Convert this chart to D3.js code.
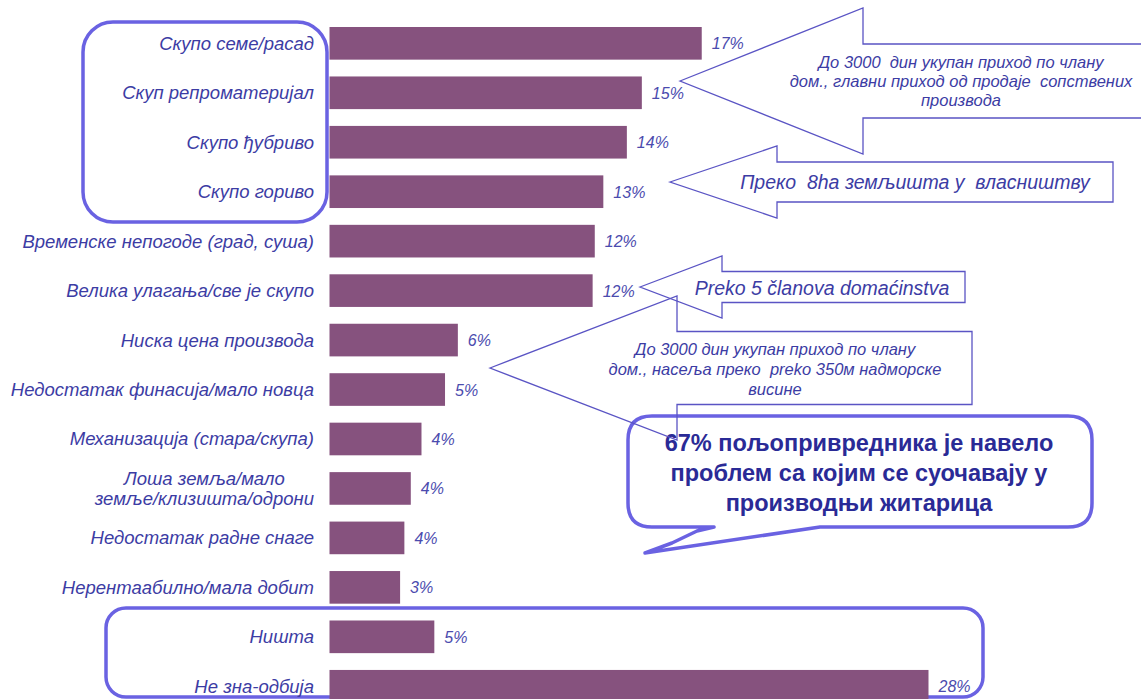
<!DOCTYPE html>
<html>
<head>
<meta charset="utf-8">
<script src="https://cdn.jsdelivr.net/npm/d3@7"></script>
<style>
  html, body { margin: 0; padding: 0; background: #ffffff; }
  svg { display: block; }
  text { font-family: "Liberation Sans", Arial, sans-serif; }
</style>
</head>
<body>
<svg id="chart" width="1141" height="699"></svg>
<script>
// ---- data ----
const categories = [
  "Скупо семе/расад",
  "Скуп репроматеријал",
  "Скупо ђубриво",
  "Скупо гориво",
  "Временске непогоде (град, суша)",
  "Велика улагања/све је скупо",
  "Ниска цена производа",
  "Недостатак финасија/мало новца",
  "Механизација (стара/скупа)",
  "Лоша земља/мало\nземље/клизишта/одрони",
  "Недостатак радне снаге",
  "Нерентаабилно/мала добит",
  "Ништа",
  "Не зна-одбија"
];
const values = [17.4, 14.6, 13.9, 12.8, 12.4, 12.3, 6.0, 5.4, 4.3, 3.8, 3.5, 3.3, 4.9, 28.0];
const valueLabels = ["17%", "15%", "14%", "13%", "12%", "12%", "6%", "5%", "4%", "4%", "4%", "3%", "5%", "28%"];

const arrowText1 = ["До 3000  дин укупан приход по члану", "дом., главни приход од продаје  сопствених", "производа"];
const arrowText2 = ["Преко  8ha земљишта у  власништву"];
const arrowText3 = ["Preko 5 članova domaćinstva"];
const arrowText4 = ["До 3000 дин укупан приход по члану", "дом., насеља преко  preko 350м надморске", "висине"];
const calloutText = ["67% пољопривредника је навело", "проблем са којим се суочавају у", "производњи житарица"];

// ---- styles ----
const barColor = "#86527e";
const labelColor = "#3c3ca4";
const valueColor = "#4b4bae";
const boxColor = "#6a62e2";
const arrowColor = "#5a54c4";

const svg = d3.select("#chart");

const x = d3.scaleLinear().domain([0, 28]).range([329.5, 928.5]);
const y = d3.scaleBand().domain(categories).range([18.6, 711]).paddingInner(0.34).paddingOuter(0.17);

// highlight boxes (behind)
const g0 = svg.append("g");
g0.append("rect").attr("x", 83).attr("y", 22).attr("width", 244).attr("height", 200)
  .attr("rx", 30).attr("ry", 30).attr("fill", "none").attr("stroke", boxColor).attr("stroke-width", 3.5);
g0.append("rect").attr("x", 106).attr("y", 608).attr("width", 877).attr("height", 89)
  .attr("rx", 20).attr("ry", 20).attr("fill", "none").attr("stroke", boxColor).attr("stroke-width", 3.5);

// bars
svg.append("g").selectAll("rect").data(categories).join("rect")
  .attr("x", x(0))
  .attr("y", d => y(d))
  .attr("width", (d, i) => x(values[i]) - x(0))
  .attr("height", y.bandwidth())
  .attr("fill", barColor);

// value labels
svg.append("g").selectAll("text").data(categories).join("text")
  .attr("x", (d, i) => x(values[i]) + 10)
  .attr("y", d => y(d) + y.bandwidth() / 2 + 6)
  .attr("font-size", 16)
  .attr("font-style", "italic")
  .attr("fill", valueColor)
  .text((d, i) => valueLabels[i]);

// category labels
const labelRight = 314;
const lab = svg.append("g").selectAll("text").data(categories).join("text")
  .attr("font-size", 18.5)
  .attr("font-style", "italic")
  .attr("fill", labelColor)
  .attr("text-anchor", "end")
  .attr("x", labelRight)
  .attr("y", d => y(d) + y.bandwidth() / 2 + 6.5);
lab.each(function(d) {
  const t = d3.select(this);
  const lines = d.split("\n");
  if (lines.length === 1) { t.text(d); return; }
  const cy = y(d) + y.bandwidth() / 2;
  const spans = lines.map((l, k) => t.append("tspan").attr("y", cy + 6.5 + (k - (lines.length - 1) / 2) * 20).text(l));
  const maxW = d3.max(spans, s => s.node().getComputedTextLength());
  t.attr("text-anchor", "middle");
  spans.forEach(s => s.attr("x", labelRight - maxW / 2));
});

// callout bubble
const cg = svg.append("g");
const L = 628, T = 416, R = 1092, B = 527, r = 24;
const bubble = `M ${L + r},${T} H ${R - r} Q ${R},${T} ${R},${T + r} V ${B - r} Q ${R},${B} ${R - r},${B} H 820 L 645,553 L 672,543 L 697,531 L 714,${B} H ${L + r} Q ${L},${B} ${L},${B - r} V ${T + r} Q ${L},${T} ${L + r},${T} Z`;
cg.append("path").attr("d", bubble).attr("fill", "#ffffff").attr("stroke", boxColor)
  .attr("stroke-width", 3.5).attr("stroke-linejoin", "round");
cg.selectAll("text").data(calloutText).join("text")
  .attr("x", 859).attr("y", (d, i) => 451 + i * 30)
  .attr("text-anchor", "middle").attr("font-size", 23.5).attr("font-weight", "bold")
  .attr("fill", "#2a2a96").text(d => d);

// arrows
function arrow(tipX, tipY, neckX, headHalf, bodyHalf, endX) {
  return `M ${tipX},${tipY} L ${neckX},${tipY - headHalf} V ${tipY - bodyHalf} H ${endX} V ${tipY + bodyHalf} H ${neckX} V ${tipY + headHalf} Z`;
}
const ag = svg.append("g");
ag.append("path").attr("d", arrow(680, 81, 863, 73, 37, 1160));
ag.append("path").attr("d", arrow(670, 182, 777, 36, 20, 1113));
ag.append("path").attr("d", arrow(640, 287, 722, 31, 15.5, 965));
ag.append("path").attr("d", arrow(490, 368, 677, 72, 36.5, 972));
ag.selectAll("path").attr("fill", "none").attr("stroke", arrowColor).attr("stroke-width", 1.3);

function textBlock(lines, cx, y0, lh, size) {
  svg.append("g").selectAll("text").data(lines).join("text")
    .attr("x", cx).attr("y", (d, i) => y0 + i * lh)
    .attr("text-anchor", "middle").attr("font-size", size).attr("font-style", "italic")
    .attr("fill", labelColor).attr("xml:space", "preserve").style("white-space", "pre").text(d => d);
}
textBlock(arrowText1, 961, 68, 19, 16.5);
textBlock(arrowText2, 915, 189, 0, 19.5);
textBlock(arrowText3, 822, 295, 0, 19.5);
textBlock(arrowText4, 775, 355, 20, 16.5);
</script>
</body>
</html>
